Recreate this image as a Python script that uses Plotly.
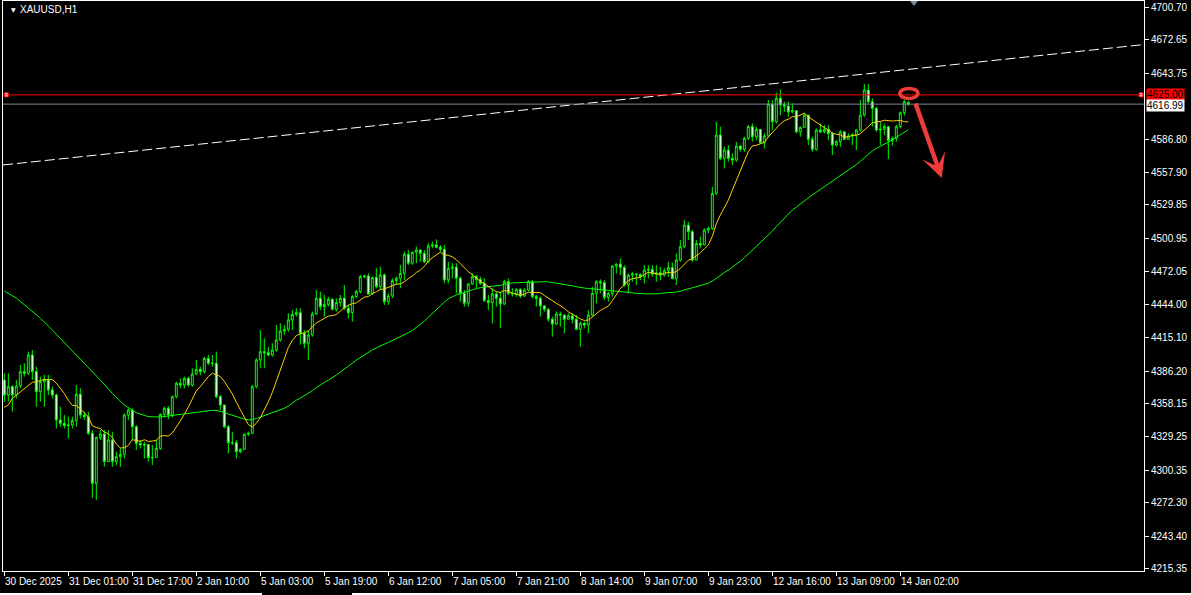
import plotly.graph_objects as go
import pandas as pd

# ---------------- data (XAUUSD H1) ----------------
first_open = 4378.5
closes = [
 4365.5, 4372.7, 4365.5, 4373.3, 4385.7, 4384.2, 4400.1, 4385.7, 4368.4, 4377.0,
 4378.5, 4369.8, 4365.5, 4343.9, 4341.0, 4339.0, 4339.6, 4343.3, 4366.1, 4348.2,
 4346.8, 4332.4, 4289.1, 4328.9, 4331.8, 4307.9, 4326.6, 4307.9, 4312.2, 4314.2,
 4348.2, 4352.5, 4338.1, 4323.7, 4322.3, 4322.8, 4311.3, 4311.6, 4319.4, 4348.8,
 4354.0, 4348.2, 4364.1, 4375.6, 4374.1, 4379.9, 4374.1, 4383.7, 4387.7, 4385.7,
 4397.2, 4392.9, 4392.9, 4364.1, 4356.9, 4338.1, 4324.3, 4324.3, 4316.5, 4318.5,
 4331.5, 4332.4, 4372.7, 4395.8, 4403.0, 4402.1, 4400.1, 4404.4, 4413.1, 4420.9,
 4422.3, 4430.4, 4435.3, 4436.7, 4418.8, 4410.2, 4417.4, 4435.6, 4449.1, 4441.9,
 4443.9, 4448.2, 4439.6, 4445.4, 4449.1, 4440.5, 4436.7, 4450.6, 4454.9, 4467.9,
 4468.4, 4452.9, 4467.0, 4459.2, 4469.3, 4446.2, 4451.1, 4464.4, 4466.4, 4470.7,
 4487.2, 4479.4, 4488.9, 4490.9, 4488.0, 4480.8, 4494.4, 4495.2, 4493.2, 4491.5,
 4465.0, 4475.1, 4476.0, 4466.4, 4453.4, 4444.8, 4461.5, 4467.9, 4465.5, 4462.1,
 4447.1, 4445.4, 4452.9, 4449.1, 4444.2, 4463.5, 4453.4, 4452.9, 4456.9, 4451.1,
 4456.3, 4463.5, 4450.6, 4449.1, 4442.5, 4439.6, 4431.0, 4426.9, 4435.6, 4434.7,
 4431.0, 4433.9, 4431.0, 4422.3, 4427.5, 4426.0, 4434.6, 4453.4, 4463.4, 4462.6,
 4449.9, 4453.4, 4477.0, 4478.7, 4475.8, 4460.6, 4469.2, 4470.1, 4469.8, 4467.8,
 4473.5, 4474.1, 4470.1, 4471.2, 4469.2, 4472.9, 4475.8, 4466.3, 4482.2, 4493.7,
 4512.4, 4506.7, 4482.2, 4496.6, 4495.1, 4508.1, 4509.6, 4539.8, 4590.2, 4570.1,
 4577.3, 4570.1, 4568.6, 4580.7, 4577.9, 4587.4, 4597.5, 4588.8, 4595.2, 4583.6,
 4589.4, 4617.0, 4601.8, 4622.0, 4616.2, 4615.3, 4610.4, 4611.3, 4593.1, 4596.9,
 4607.5, 4586.5, 4577.9, 4594.6, 4593.1, 4595.2, 4591.7, 4581.6, 4584.5, 4593.1,
 4586.5, 4589.4, 4590.3, 4594.6, 4607.5, 4629.2, 4619.1, 4613.3, 4594.6, 4595.2,
 4597.5, 4585.5, 4587.4, 4597.5, 4609.6, 4619.1, 4616.99,
]
highs = [
 4384.2, 4384.2, 4374.1, 4378.5, 4391.4, 4392.9, 4403.0, 4404.4, 4390.0, 4381.4,
 4382.8, 4382.8, 4372.7, 4366.9, 4355.4, 4348.2, 4346.8, 4346.8, 4374.1, 4371.3,
 4351.1, 4351.1, 4335.2, 4329.5, 4335.2, 4335.2, 4335.2, 4333.8, 4316.5, 4319.4,
 4349.7, 4354.0, 4354.0, 4339.6, 4326.6, 4325.1, 4322.3, 4322.3, 4326.6, 4349.7,
 4355.4, 4356.0, 4365.0, 4377.0, 4379.9, 4381.4, 4381.4, 4388.6, 4395.8, 4390.0,
 4398.6, 4400.1, 4400.1, 4403.0, 4365.5, 4356.9, 4339.6, 4333.8, 4326.6, 4319.4,
 4332.4, 4333.8, 4374.1, 4397.2, 4421.7, 4414.5, 4407.3, 4410.2, 4426.0, 4427.5,
 4426.0, 4436.1, 4439.0, 4440.5, 4440.5, 4421.7, 4421.7, 4437.6, 4456.3, 4454.9,
 4452.0, 4450.5, 4449.1, 4449.1, 4452.0, 4460.6, 4443.4, 4452.0, 4456.3, 4469.3,
 4469.3, 4470.7, 4467.9, 4475.1, 4476.5, 4470.7, 4453.4, 4466.4, 4467.9, 4477.9,
 4489.5, 4490.9, 4489.5, 4493.8, 4490.9, 4490.9, 4496.7, 4498.1, 4500.1, 4495.2,
 4495.2, 4480.8, 4479.4, 4479.4, 4467.9, 4456.3, 4462.1, 4470.7, 4469.3, 4467.9,
 4466.4, 4452.0, 4457.8, 4454.9, 4454.9, 4465.0, 4466.4, 4457.8, 4457.8, 4457.8,
 4457.8, 4465.0, 4465.0, 4452.0, 4450.6, 4443.4, 4440.5, 4433.3, 4437.6, 4437.6,
 4434.7, 4436.1, 4436.1, 4434.7, 4429.0, 4428.9, 4438.9, 4459.1, 4464.9, 4465.5,
 4464.9, 4454.8, 4477.8, 4479.3, 4483.6, 4477.8, 4470.6, 4472.1, 4470.6, 4470.6,
 4477.8, 4477.8, 4477.8, 4477.8, 4476.4, 4475.0, 4480.7, 4479.9, 4487.9, 4499.5,
 4516.8, 4515.3, 4508.1, 4499.5, 4502.3, 4509.6, 4511.0, 4545.6, 4601.8, 4597.5,
 4580.2, 4581.6, 4574.4, 4584.5, 4581.6, 4588.8, 4598.9, 4600.3, 4597.5, 4595.2,
 4591.7, 4620.5, 4620.5, 4626.8, 4629.7, 4619.1, 4619.1, 4617.6, 4611.9, 4597.5,
 4609.0, 4601.8, 4588.8, 4596.0, 4600.3, 4598.9, 4598.9, 4593.1, 4585.9, 4594.6,
 4593.1, 4591.7, 4591.7, 4595.2, 4620.5, 4634.3, 4634.3, 4622.0, 4614.7, 4601.8,
 4600.0, 4598.0, 4589.0, 4599.0, 4610.5, 4620.5, 4619.5,
]
lows = [
 4359.7, 4359.7, 4351.1, 4362.6, 4371.3, 4381.4, 4382.8, 4378.5, 4355.4, 4359.7,
 4355.4, 4365.5, 4362.6, 4336.7, 4338.1, 4336.7, 4328.0, 4336.7, 4338.1, 4345.3,
 4343.9, 4330.9, 4276.2, 4274.7, 4326.6, 4303.5, 4307.9, 4303.5, 4305.0, 4303.5,
 4310.7, 4343.9, 4326.6, 4318.0, 4319.4, 4310.7, 4307.9, 4305.0, 4312.2, 4318.0,
 4346.2, 4344.5, 4346.2, 4362.6, 4371.3, 4371.3, 4372.7, 4372.7, 4382.8, 4382.8,
 4384.2, 4391.4, 4390.0, 4362.6, 4352.5, 4336.7, 4315.1, 4322.3, 4310.7, 4315.1,
 4318.0, 4330.1, 4343.9, 4371.3, 4388.6, 4388.6, 4399.0, 4398.7, 4403.0, 4411.6,
 4417.4, 4420.3, 4421.7, 4433.3, 4409.0, 4405.9, 4395.8, 4416.0, 4434.7, 4439.0,
 4433.3, 4441.9, 4438.5, 4437.6, 4441.9, 4439.0, 4431.8, 4428.9, 4449.1, 4453.4,
 4466.4, 4452.0, 4452.0, 4457.8, 4456.3, 4443.4, 4443.4, 4449.1, 4460.6, 4457.8,
 4465.0, 4478.0, 4478.0, 4479.4, 4480.8, 4479.4, 4479.4, 4492.4, 4492.4, 4489.5,
 4462.1, 4462.1, 4466.4, 4453.4, 4446.2, 4441.9, 4441.9, 4460.6, 4457.8, 4460.6,
 4446.2, 4439.0, 4427.5, 4441.9, 4423.2, 4443.4, 4452.0, 4450.6, 4450.6, 4449.1,
 4450.6, 4454.9, 4449.1, 4441.9, 4433.3, 4437.6, 4428.9, 4416.0, 4426.1, 4424.6,
 4418.9, 4431.8, 4427.5, 4421.7, 4407.3, 4423.1, 4418.8, 4433.2, 4444.7, 4453.4,
 4447.6, 4446.1, 4450.5, 4470.6, 4469.2, 4459.1, 4453.4, 4463.4, 4460.6, 4464.9,
 4462.0, 4466.3, 4467.8, 4463.4, 4464.9, 4467.8, 4467.8, 4465.5, 4460.6, 4480.7,
 4492.3, 4499.5, 4480.7, 4482.2, 4492.3, 4496.6, 4505.2, 4508.1, 4538.4, 4568.6,
 4561.4, 4567.2, 4564.3, 4567.2, 4575.8, 4575.8, 4585.9, 4584.5, 4585.9, 4583.0,
 4578.7, 4588.8, 4594.6, 4600.3, 4607.5, 4610.4, 4606.1, 4609.0, 4591.7, 4588.8,
 4598.9, 4581.6, 4575.8, 4576.7, 4591.7, 4591.7, 4585.9, 4573.0, 4580.2, 4580.2,
 4585.9, 4586.5, 4581.6, 4577.3, 4593.1, 4606.1, 4617.6, 4597.5, 4593.1, 4581.6,
 4590.0, 4569.5, 4581.0, 4584.5, 4596.0, 4607.0, 4615.5,
]
assert len(closes) == len(highs) == len(lows) == 227

# moving averages: values before enough history
ma_fast_period = 10
ma_slow_period = 50
ma_fast_head = [4354.8, 4356.9, 4362.6, 4365.5, 4368.4, 4371.3, 4374.1, 4376.5, 4377.0]
ma_slow_head_idx = [0, 3, 6, 9, 12, 15, 18, 21, 24, 27, 30, 33, 36, 39, 42, 45, 48]
ma_slow_head = [4455.4, 4449.3, 4440.7, 4432.0, 4421.7, 4411.0, 4400.1, 4390.0, 4378.5,
                4366.9, 4356.9, 4350.2, 4346.8, 4346.5, 4347.9, 4349.4, 4350.5]

tick_labels = ["30 Dec 2025", "31 Dec 01:00", "31 Dec 17:00", "2 Jan 10:00", "5 Jan 03:00",
               "5 Jan 19:00", "6 Jan 12:00", "7 Jan 05:00", "7 Jan 21:00", "8 Jan 14:00",
               "9 Jan 07:00", "9 Jan 23:00", "12 Jan 16:00", "13 Jan 09:00", "14 Jan 02:00"]
bars_per_label = 16

y_ticks = [4700.70, 4672.65, 4643.75, 4586.80, 4557.90, 4529.85, 4500.95, 4472.05, 4444.00,
           4415.10, 4386.20, 4358.15, 4329.25, 4300.35, 4272.30, 4243.40, 4215.35]

level_price = 4625.00       # horizontal level (red)
bid_price = 4616.99         # current bid (grey)
trend_x = [-0.325, 284.925]  # trend line anchors (bar index)
trend_y = [4564.4, 4668.5]

# ---------------- build ----------------
n = len(closes)
idx = list(range(n))
opens = [first_open] + closes[:-1]
opens[-1] = 4618.5
highs = [max(h, o, c) for h, o, c in zip(highs, opens, closes)]
lows = [min(l, o, c) for l, o, c in zip(lows, opens, closes)]

cs = pd.Series(closes)
fast = cs.rolling(ma_fast_period).mean()
slow = cs.rolling(ma_slow_period).mean()
fast_x = idx[:len(ma_fast_head)] + idx[ma_fast_period - 1:]
fast_y = ma_fast_head + list(fast[ma_fast_period - 1:])
slow_x = ma_slow_head_idx + idx[ma_slow_period - 1:]
slow_y = ma_slow_head + list(slow[ma_slow_period - 1:])

GREEN = "#00FF00"
FONT = "Liberation Sans"
XR = [-0.325, 284.925]
YR = [4213.36, 4706.15]

fig = go.Figure()
fig.add_trace(go.Candlestick(
    x=idx, open=opens, high=highs, low=lows, close=closes,
    increasing=dict(line=dict(color=GREEN, width=1), fillcolor="#000000"),
    decreasing=dict(line=dict(color=GREEN, width=1), fillcolor="#FFFFFF"),
    whiskerwidth=0, showlegend=False, hoverinfo="skip"))
fig.add_trace(go.Scatter(x=slow_x, y=slow_y, mode="lines",
                         line=dict(color="#00FF00", width=1), showlegend=False, hoverinfo="skip"))
fig.add_trace(go.Scatter(x=fast_x, y=fast_y, mode="lines",
                         line=dict(color="#FFD000", width=1), showlegend=False, hoverinfo="skip"))
fig.add_trace(go.Scatter(x=trend_x, y=trend_y, mode="lines",
                         line=dict(color="#FFFFFF", width=1, dash="10px,4px"),
                         showlegend=False, hoverinfo="skip"))

BOT = -23 / 570
shapes = [
    dict(type="line", xref="paper", yref="y", x0=0, x1=1, y0=level_price, y1=level_price,
         line=dict(color="#FF0000", width=1)),
    dict(type="line", xref="paper", yref="y", x0=0, x1=1, y0=bid_price, y1=bid_price,
         line=dict(color="#778899", width=1)),
    dict(type="circle", xref="x", yref="y", x0=223.9, x1=228.4, y0=4621.8, y1=4630.6,
         line=dict(color="#EE3B3B", width=3.5)),
    dict(type="line", xref="paper", yref="paper", x0=-3 / 1141, x1=259 / 1141,
         y0=BOT, y1=BOT, line=dict(color="#FFFFFF", width=2)),
    dict(type="line", xref="paper", yref="paper", x0=349 / 1141, x1=1188 / 1141,
         y0=BOT, y1=BOT, line=dict(color="#FFFFFF", width=2)),
    dict(type="path", xref="paper", yref="paper",
         path=f"M {907/1141} 1 L {915/1141} 1 L {911/1141} {1 - 5/570} Z",
         fillcolor="#778899", line=dict(width=0)),
]
fig.add_trace(go.Scatter(x=[0.5, 284.2], y=[level_price, level_price], mode="markers",
                         marker=dict(symbol="square", size=4, color="#FFFFFF",
                                     line=dict(color="#FF0000", width=1)),
                         cliponaxis=False, showlegend=False, hoverinfo="skip"))

ann = []
for k, lab in enumerate(tick_labels):
    ann.append(dict(x=k * bars_per_label, y=-10 / 570, xref="x", yref="paper", text=lab,
                    showarrow=False, xanchor="left", yanchor="middle", xshift=-1,
                    font=dict(family=FONT, size=10, color="#FFFFFF")))
ann += [
    dict(x=1, y=level_price, xref="paper", yref="y", text="4625.00", showarrow=False,
         xanchor="left", yanchor="middle", xshift=2, bgcolor="#FF0000", borderpad=0,
         font=dict(family=FONT, size=10, color="#000000")),
    dict(x=1, y=bid_price, xref="paper", yref="y", text="4616.99", showarrow=False,
         xanchor="left", yanchor="middle", xshift=2, yshift=-1, bgcolor="#FFFFFF", borderpad=0,
         font=dict(family=FONT, size=10, color="#000000")),
    dict(x=15 / 1141, y=-8 / 570 + 1, xref="paper", yref="paper", text="XAUUSD,H1",
         showarrow=False, xanchor="left", yanchor="middle",
         font=dict(family=FONT, size=10, color="#FFFFFF")),
    dict(x=6 / 1141, y=-8 / 570 + 1, xref="paper", yref="paper", text="▼",
         showarrow=False, xanchor="left", yanchor="middle",
         font=dict(family="DejaVu Sans", size=6, color="#FFFFFF")),
    dict(x=234.35, y=4553.1, xref="x", yref="y", ax=-26.7, ay=-76, text="",
         showarrow=True, arrowhead=3, arrowsize=0.9, arrowwidth=4.5, arrowcolor="#EE3B3B"),
]

fig.update_layout(
    width=1191, height=595,
    margin=dict(l=3, r=47, t=1, b=24, autoexpand=False),
    paper_bgcolor="#000000", plot_bgcolor="#000000",
    shapes=shapes, annotations=ann, showlegend=False,
    xaxis=dict(range=XR, showgrid=False, zeroline=False, showline=True, linecolor="#FFFFFF",
               linewidth=1, mirror=True, ticks="outside", ticklen=4, tickcolor="#FFFFFF",
               tickvals=[k * bars_per_label for k in range(len(tick_labels))],
               showticklabels=False, rangeslider=dict(visible=False), fixedrange=True),
    yaxis=dict(range=YR, side="right", showgrid=False, zeroline=False, showline=True,
               linecolor="#FFFFFF", linewidth=1, mirror=True, ticks="outside", ticklen=4,
               tickcolor="#FFFFFF", tickvals=y_ticks, ticktext=[f"{v:.2f}" for v in y_ticks],
               tickfont=dict(family=FONT, size=10, color="#FFFFFF"), fixedrange=True),
)

fig.write_html("out.html", config={"displayModeBar": False},
               post_script="document.body.style.margin='0';document.body.style.padding='0';"
                           "document.body.style.overflow='hidden';")
